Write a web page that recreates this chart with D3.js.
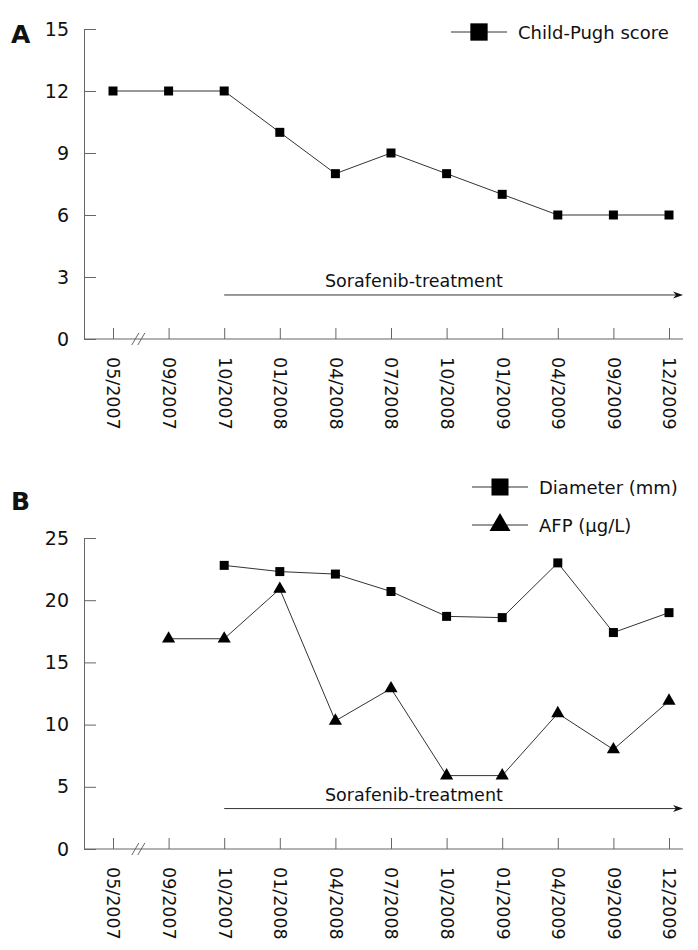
<!DOCTYPE html>
<html>
<head>
<meta charset="utf-8">
<script src="https://cdn.jsdelivr.net/npm/d3@7"></script>
<style>
  body { margin: 0; background: #fff; }
  text { font-family: "DejaVu Sans", sans-serif; fill: #111; }
</style>
</head>
<body>
<script>
// time points on the x axis (same for both panels)
let dates = ["05/2007","09/2007","10/2007","01/2008","04/2008","07/2008","10/2008","01/2009","04/2009","09/2009","12/2009"]

// panel A
let childPugh = [12,12,12,10,8,9,8,7,6,6,6]
let ticksA = [0,3,6,9,12,15]

// panel B (null = not measured)
let diameter = [null,null,22.8,22.3,22.1,20.7,18.7,18.6,23.0,17.4,19.0]
let afp = [null,16.9,16.9,20.9,10.3,12.9,5.9,5.9,10.9,8.0,11.9]
let ticksB = [0,5,10,15,20,25]

let width = 698
let height = 950
let axisleft = 84
let axisright = 683
let lineColor = "#333"
let axisColor = "#666"

let svg = d3.select("body").append("svg")
    .attr("width", width)
    .attr("height", height)

let x = d3.scalePoint().domain(dates).range([113, 669])

function drawPanel(cfg){
    let y = d3.scaleLinear().domain([0, cfg.max]).range([cfg.bottom, cfg.top])
    let g = svg.append("g")

    // y axis, ticks pointing inward
    let yaxis = g.append("g")
        .attr("transform", "translate(" + axisleft + ",0)")
        .call(d3.axisLeft(y).tickValues(cfg.ticks).tickSizeInner(-12).tickSizeOuter(0).tickPadding(15))
    yaxis.select(".domain").attr("stroke", axisColor)
    yaxis.selectAll(".tick line").attr("stroke", axisColor)
    yaxis.selectAll("text").attr("font-size", 19).attr("font-family", "DejaVu Sans").attr("fill", "#111")

    // x axis
    let xaxis = g.append("g")
        .attr("transform", "translate(0," + cfg.bottom + ")")
        .call(d3.axisBottom(x).tickSizeInner(-11).tickSizeOuter(0))
    xaxis.select(".domain").remove()
    xaxis.selectAll(".tick line").attr("stroke", axisColor)
    xaxis.selectAll("text")
        .attr("transform", "rotate(90)")
        .attr("x", 18).attr("y", 0).attr("dy", "0.35em")
        .attr("text-anchor", "start")
        .attr("font-size", 17.5).attr("font-family", "DejaVu Sans").attr("fill", "#111")
    g.append("line")
        .attr("x1", axisleft).attr("x2", axisright)
        .attr("y1", cfg.bottom).attr("y2", cfg.bottom)
        .attr("stroke", axisColor)

    // axis break "//"
    let bx = (x(dates[0]) + x(dates[1])) / 2 - 3
    ;[-3, 3].forEach(off => {
        g.append("line")
            .attr("x1", bx + off - 3).attr("y1", cfg.bottom + 6)
            .attr("x2", bx + off + 4).attr("y2", cfg.bottom - 6)
            .attr("stroke", axisColor)
    })

    // panel letter
    g.append("text")
        .attr("x", 11).attr("y", cfg.letterY)
        .attr("font-size", 25).attr("font-weight", "bold")
        .attr("font-family", "DejaVu Sans")
        .text(cfg.letter)

    // treatment arrow
    let ay = y(cfg.arrowVal)
    g.append("line")
        .attr("x1", x("10/2007")).attr("x2", axisright - 6)
        .attr("y1", ay).attr("y2", ay)
        .attr("stroke", lineColor)
    g.append("path")
        .attr("d", "M" + axisright + "," + ay + " L" + (axisright - 10) + "," + (ay - 3.5) + " L" + (axisright - 7) + "," + ay + " L" + (axisright - 10) + "," + (ay + 3.5) + "Z")
        .attr("fill", "#111")
    g.append("text")
        .attr("x", 325).attr("y", ay - 8)
        .attr("font-size", 17.5)
        .text("Sorafenib-treatment")

    // series
    cfg.series.forEach(s => {
        let pts = s.values.map((v, i) => ({date: dates[i], v: v}))
        let line = d3.line()
            .defined(d => d.v != null)
            .x(d => x(d.date))
            .y(d => y(d.v))
        g.append("path")
            .datum(pts)
            .attr("d", line)
            .attr("fill", "none")
            .attr("stroke", lineColor)
            .attr("stroke-width", 1)
        g.selectAll("path.m" + s.name)
            .data(pts.filter(d => d.v != null))
            .enter()
            .append("path")
            .attr("class", "m" + s.name)
            .attr("d", d3.symbol().type(s.symbol).size(s.size))
            .attr("transform", d => "translate(" + x(d.date) + "," + y(d.v) + ")")
            .attr("fill", "#000")

        // legend entry
        g.append("line")
            .attr("x1", s.legendX).attr("x2", s.legendX + 56)
            .attr("y1", s.legendY).attr("y2", s.legendY)
            .attr("stroke", lineColor)
        g.append("path")
            .attr("d", d3.symbol().type(s.symbol).size(s.legendSize))
            .attr("transform", "translate(" + (s.legendX + 28) + "," + s.legendY + ")")
            .attr("fill", "#000")
        g.append("text")
            .attr("x", s.legendX + 67).attr("y", s.legendY + 7)
            .attr("font-size", 18)
            .text(s.label)
    })
}

drawPanel({
    letter: "A", letterY: 43,
    max: 15, ticks: ticksA, top: 29, bottom: 339,
    arrowVal: 2.13,
    series: [
        {name: "cp", label: "Child-Pugh score", values: childPugh, symbol: d3.symbolSquare, size: 81,
         legendSize: 300, legendX: 451, legendY: 32}
    ]
})

drawPanel({
    letter: "B", letterY: 510,
    max: 25, ticks: ticksB, top: 538, bottom: 849,
    arrowVal: 3.25,
    series: [
        {name: "dia", label: "Diameter (mm)", values: diameter, symbol: d3.symbolSquare, size: 81,
         legendSize: 290, legendX: 472, legendY: 487},
        {name: "afp", label: "AFP (μg/L)", values: afp, symbol: d3.symbolTriangle, size: 75,
         legendSize: 190, legendX: 472, legendY: 525}
    ]
})
</script>
</body>
</html>
